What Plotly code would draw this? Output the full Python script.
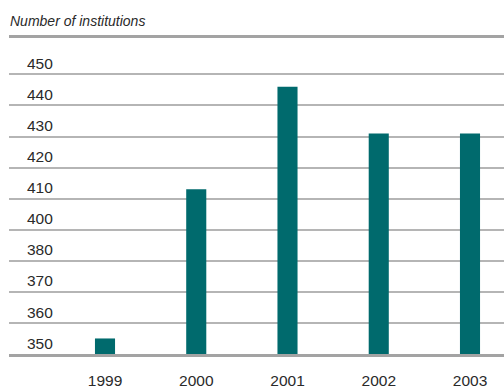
import numpy as np
import plotly.graph_objects as go

# Data
years = ["1999", "2000", "2001", "2002", "2003"]
institutions = [355, 413, 446, 431, 431]

# Axis labels (the scale skips 390, so each label occupies one equal band)
tick_values = [350, 360, 370, 380, 400, 410, 420, 430, 440, 450]
tick_labels = [str(v) for v in tick_values]

# Map values onto the band positions of the axis
tick_pos = np.arange(len(tick_values))
bar_pos = np.interp(institutions, tick_values, tick_pos)

TEAL = "#006a6d"
FONT = "Liberation Sans Narrow, Arial Narrow, Liberation Sans, sans-serif"
TEXT = "#2a2a2a"

fig = go.Figure(
    go.Bar(
        x=years,
        y=bar_pos,
        width=0.22,
        marker=dict(color=TEAL, line=dict(width=0)),
        customdata=institutions,
        hovertemplate="%{x}: %{customdata}<extra></extra>",
    )
)

fig.update_layout(
    width=504,
    height=389,
    margin=dict(l=9, r=0, t=38, b=25),
    paper_bgcolor="white",
    plot_bgcolor="white",
    showlegend=False,
    title=dict(
        text="<i>Number of institutions</i>",
        x=10 / 504,
        xanchor="left",
        xref="container",
        y=1 - 21 / 389,
        yanchor="middle",
        yref="container",
        font=dict(family=FONT, size=14, color=TEXT),
    ),
)

fig.update_xaxes(
    type="category",
    range=[-96 / 91.25, 4 + 34 / 91.25],
    showgrid=False,
    showline=True,
    linewidth=3,
    linecolor="#a3a3a3",
    mirror=True,
    ticks="outside",
    ticklen=10,
    tickcolor="rgba(0,0,0,0)",
    tickfont=dict(family=FONT, size=15.5, color=TEXT),
)

fig.update_yaxes(
    range=[0, 10.17],
    tickmode="array",
    tickvals=tick_pos,
    ticktext=tick_labels,
    ticklabelposition="inside top",
    ticklabelstandoff=15,
    showgrid=True,
    gridcolor="#b5b5b5",
    gridwidth=1.5,
    zeroline=False,
    showline=False,
    tickfont=dict(family=FONT, size=15.5, color=TEXT),
)

fig.write_html("out.html")
